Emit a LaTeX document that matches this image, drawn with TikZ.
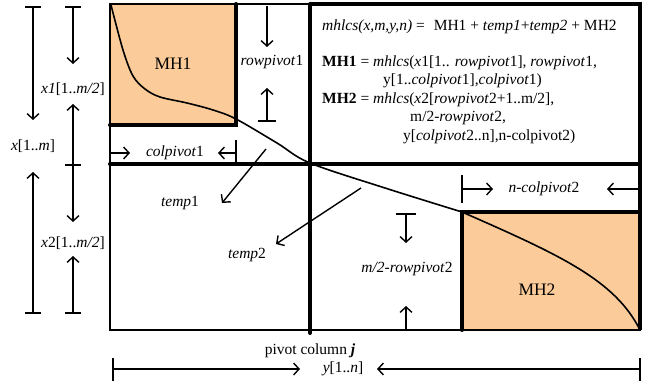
\documentclass[tikz,border=0pt]{standalone}
\usepackage{fontspec}
\setmainfont{Liberation Serif}
\usetikzlibrary{arrows.meta}
\definecolor{mhfill}{RGB}{251,203,153}
\tikzset{
  thin line/.style={line width=1.4pt},
  thick line/.style={line width=4pt, line cap=round},
  frame line/.style={line width=2.4pt},
  dimarrow/.style={line width=1.4pt, -{Straight Barb[length=5.5pt,width=12pt,line width=1.4pt]}},
  bar/.style={line width=1.4pt},
  lbl/.style={inner sep=0pt, font=\fontsize{15.5}{18}\selectfont},
  biglbl/.style={inner sep=0pt, font=\fontsize{17.5}{20}\selectfont},
  txt/.style={inner sep=0pt, anchor=base west, font=\fontsize{15.5}{18}\selectfont},
}
\begin{document}
\begin{tikzpicture}[x=1pt,y=-1pt]
\useasboundingbox (0,0) rectangle (656,382);
% fills
\fill[mhfill] (110,4) rectangle (236,125);
\fill[mhfill] (462,212) rectangle (640,330);
% main frame
\draw[frame line] (110,4) rectangle (640,330);
\draw[line width=3.2pt] (310,4) -- (640,4) -- (640,330);
% thick lines
\draw[thick line] (236,4) -- (236,125) -- (110,125);
\draw[thick line] (110,164) -- (640,164);
\draw[thick line] (310,4) -- (310,333);
\draw[thick line] (640,212) -- (462,212) -- (462,330);
% curve
\draw[line width=1.6pt] plot[smooth, tension=0.55] coordinates {(111,5) (123,50) (133,76) (145,89) (160,97) (187,103) (213,110) (236,119) (277,143) (310,163) (385,188) (462,212)};
\draw[line width=1.6pt] (462,212) .. controls (560,255) and (615,280) .. (640,330);
% labels inside
\node[biglbl] (mh1) at (173,64) {MH1};
\node[biglbl] (mh2) at (537,290) {MH2};
\node[lbl] (rp1) at (272,62) {\textit{rowpivot}1};
\node[lbl] (cp1) at (175,153) {\textit{colpivot}1};
\node[lbl] (t1) at (180,203) {\textit{temp}1};
\node[lbl] (t2) at (247,255) {\textit{temp}2};
\node[lbl] (ncp2) at (544,189) {\textit{n-colpivot}2};
\node[lbl] (rp2) at (407,269) {\textit{m/2-rowpivot}2};
% left labels
\node[lbl] (xm) at (33,146) {\textit{x}[1..\textit{m}]};
\node[lbl] (x1) at (73,89) {\textit{x1}[1..\textit{m/2}]};
\node[lbl] (x2) at (73,243) {\textit{x}2[1..\textit{m/2}]};
% bottom labels
\node[lbl] (pc) at (310,351) {pivot column \textbf{\textit{j}}};
\node[lbl] (yn) at (343,369) {\textit{y}[1..\textit{n}]};
% text block
\node[txt] (l1) at (322,31) {\textit{mhlcs(x,m,y,n)} =\hspace{9pt}MH1 + \textit{temp1}+\textit{temp2} + MH2};
\node[txt] (l2) at (322,67) {\textbf{MH1} = \textit{mhlcs}(\textit{x}1[1.. \textit{rowpivot}1], \textit{rowpivot}1,};
\node[txt] (l3) at (383,85) {y[1..\textit{colpivot}1],\textit{colpivot}1)};
\node[txt] (l4) at (322,104) {\textbf{MH2} = \textit{mhlcs}(\textit{x}2[\textit{rowpivot}2+1..m/2],};
\node[txt] (l5) at (410,122) {m/2-\textit{rowpivot}2,};
\node[txt] (l6) at (403,141) {y[\textit{colpivot}2..n],n-colpivot2)};
% coordinates for dimension arrows
\coordinate (a1) at (33,7); \coordinate (a2) at (33,120);
\coordinate (a3) at (33,313); \coordinate (a4) at (33,172);
\coordinate (b1) at (73,7); \coordinate (b2) at (73,64);
\coordinate (b3) at (73,165); \coordinate (b4) at (73,104);
\coordinate (b5) at (73,222); \coordinate (b6) at (73,313); \coordinate (b7) at (73,256);
\coordinate (r1) at (267,6); \coordinate (r2) at (267,47);
\coordinate (r3) at (267,121); \coordinate (r4) at (267,88);
\coordinate (c1) at (111,153); \coordinate (c2) at (130,153);
\coordinate (c3) at (236,153); \coordinate (c4) at (218,153);
\coordinate (tp1s) at (266,149); \coordinate (tp1e) at (222,203);
\coordinate (tp2s) at (361,188); \coordinate (tp2e) at (276,244);
\coordinate (n1) at (462,189); \coordinate (n2) at (493,189);
\coordinate (n3) at (640,189); \coordinate (n4) at (607,189);
\coordinate (m1) at (406,214); \coordinate (m2) at (406,243);
\coordinate (m3) at (406,330); \coordinate (m4) at (406,306);
\coordinate (y1) at (113,369); \coordinate (y2) at (300,369);
\coordinate (y3) at (640,369); \coordinate (y4) at (377,369);
% bars
\draw[bar] (25,7) -- (41,7);
\draw[bar] (25,313) -- (41,313);
\draw[bar] (65,7) -- (81,7);
\draw[bar] (65,165) -- (81,165);
\draw[bar] (65,313) -- (81,313);
\draw[bar] (258,121) -- (276,121);
\draw[bar] (236,140) -- (236,164);
\draw[bar] (462,175) -- (462,203);
\draw[bar] (396,214) -- (416,214);
\draw[bar] (113,358) -- (113,381);
\draw[bar] (640,358) -- (640,381);
% arrows
\draw[dimarrow] (a1) -- (a2);
\draw[dimarrow] (a3) -- (a4);
\draw[dimarrow] (b1) -- (b2);
\draw[dimarrow] (b3) -- (b4);
\draw[dimarrow] (b3) -- (b5);
\draw[dimarrow] (b6) -- (b7);
\draw[dimarrow] (r1) -- (r2);
\draw[dimarrow] (r3) -- (r4);
\draw[dimarrow] (c1) -- (c2);
\draw[dimarrow] (c3) -- (c4);
\draw[dimarrow] (tp1s) -- (tp1e);
\draw[dimarrow] (tp2s) -- (tp2e);
\draw[dimarrow] (n1) -- (n2);
\draw[dimarrow] (n3) -- (n4);
\draw[dimarrow] (m1) -- (m2);
\draw[dimarrow] (m3) -- (m4);
\draw[dimarrow] (y1) -- (y2);
\draw[dimarrow] (y3) -- (y4);
\end{tikzpicture}
\end{document}
